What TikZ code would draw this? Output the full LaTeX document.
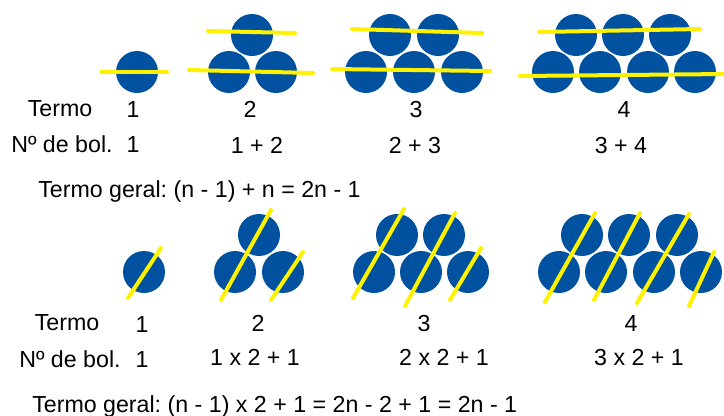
\documentclass[tikz,border=0pt]{standalone}
\usepackage{fontspec}
\setmainfont{Liberation Sans}
\usetikzlibrary{positioning}
\definecolor{ballblue}{HTML}{0052A0}
\definecolor{cutyellow}{HTML}{FFF200}

\begin{document}
\begin{tikzpicture}[x=0.75pt, y=-0.75pt,
    ball/.style={fill=ballblue},
    cut/.style={draw=cutyellow, line width=3pt, line cap=round},
    lbl/.style={font=\fontsize{17.4}{21}\selectfont\frenchspacing, anchor=base, inner sep=0pt},
]
    \useasboundingbox (0,0) rectangle (724,415);

    % Rows, top part
    \fill[ball] (137,72) circle (21);
    \fill[ball] (252,35) circle (21);
    \fill[ball] (229,72) circle (21);
    \fill[ball] (276,72) circle (21);
    \fill[ball] (390,35) circle (21);
    \fill[ball] (438,35) circle (21);
    \fill[ball] (366,72) circle (21);
    \fill[ball] (414,72) circle (21);
    \fill[ball] (462,72) circle (21);
    \fill[ball] (576,35) circle (21);
    \fill[ball] (623,35) circle (21);
    \fill[ball] (670,35) circle (21);
    \fill[ball] (553,72) circle (21);
    \fill[ball] (600,72) circle (21);
    \fill[ball] (648,72) circle (21);
    \fill[ball] (695,72) circle (21);

    \draw[cut] (101,72) -- (167,72);
    \draw[cut] (208,31) -- (295,33);
    \draw[cut] (189,70) -- (313,73);
    \draw[cut] (352,29) -- (482,33);
    \draw[cut] (332,69) -- (490,71);
    \draw[cut] (539,32) -- (700,29);
    \draw[cut] (520,76) -- (726,74);

    \node[lbl] (termoA) at (60,116) {Termo};
    \node[lbl] (tA1) at (133,117) {1};
    \node[lbl] (tA2) at (250,117) {2};
    \node[lbl] (tA3) at (416,117) {3};
    \node[lbl] (tA4) at (624,117) {4};
    \node[lbl] (bolA) at (62,152) {Nº de bol.};
    \node[lbl] (bA1) at (133,152) {1};
    \node[lbl] (bA2) at (257,153) {1 + 2};
    \node[lbl] (bA3) at (415,153) {2 + 3};
    \node[lbl] (bA4) at (621,153) {3 + 4};
    \node[lbl, anchor=base west] (geralA) at (38,197) {Termo geral: (n - 1) + n = 2n - 1};

    % Diagonals, bottom part
    \fill[ball] (144,272) circle (21);
    \fill[ball] (259,235) circle (21);
    \fill[ball] (235,272) circle (21);
    \fill[ball] (283,272) circle (21);
    \fill[ball] (397,235) circle (21);
    \fill[ball] (444,235) circle (21);
    \fill[ball] (374,272) circle (21);
    \fill[ball] (421,272) circle (21);
    \fill[ball] (468,272) circle (21);
    \fill[ball] (582,235) circle (21);
    \fill[ball] (629,235) circle (21);
    \fill[ball] (677,235) circle (21);
    \fill[ball] (559,272) circle (21);
    \fill[ball] (606,272) circle (21);
    \fill[ball] (654,272) circle (21);
    \fill[ball] (701,272) circle (21);

    \draw[cut] (128,298) -- (161,248);
    \draw[cut] (221,300) -- (271,210);
    \draw[cut] (271,300) -- (303,252);
    \draw[cut] (353,298) -- (404,209);
    \draw[cut] (405,306) -- (455,213);
    \draw[cut] (450,300) -- (481,248);
    \draw[cut] (545,302) -- (595,213);
    \draw[cut] (594,300) -- (640,213);
    \draw[cut] (637,303) -- (689,214);
    \draw[cut] (689,306) -- (714,252);

    \node[lbl] (termoB) at (67,330) {Termo};
    \node[lbl] (tB1) at (142,332) {1};
    \node[lbl] (tB2) at (258,331) {2};
    \node[lbl] (tB3) at (424,331) {3};
    \node[lbl] (tB4) at (631,331) {4};
    \node[lbl] (bolB) at (70,367) {Nº de bol.};
    \node[lbl] (bB1) at (142,367) {1};
    \node[lbl] (bB2) at (255,365) {1 x 2 + 1};
    \node[lbl] (bB3) at (444,365) {2 x 2 + 1};
    \node[lbl] (bB4) at (639,365) {3 x 2 + 1};
    \node[lbl, anchor=base west] (geralB) at (32,412) {Termo geral: (n - 1) x 2 + 1 = 2n - 2 + 1 = 2n - 1};
\end{tikzpicture}
\end{document}
